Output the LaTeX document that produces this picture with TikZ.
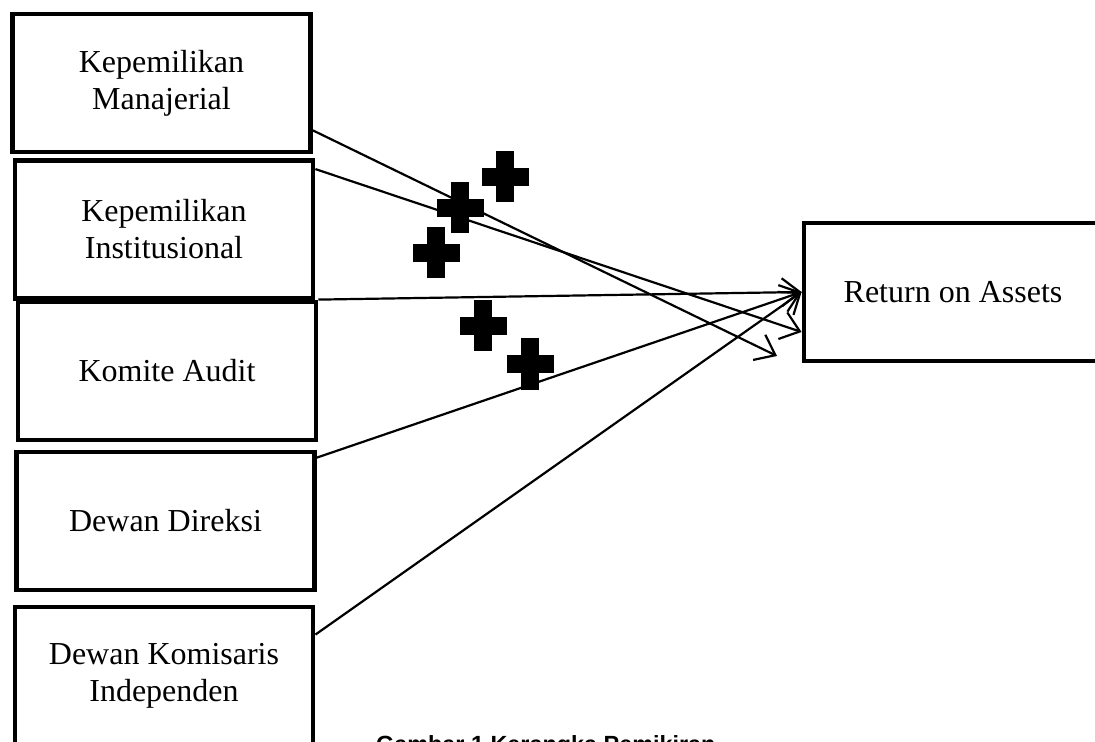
\documentclass[tikz,border=0pt]{standalone}
\usepackage{fontspec}
\setmainfont{Liberation Serif}
\setsansfont{Liberation Sans}
\usetikzlibrary{arrows.meta}

\begin{document}
\begin{tikzpicture}[->,>={Straight Barb[length=9pt,width=14pt]},x=0.5pt,y=-0.5pt,
                    line width=1.1pt]
  \tikzstyle{varbox}=[draw,rectangle,line width=2.4pt,minimum width=149pt,minimum height=69pt,
                      align=center,font=\fontsize{16pt}{18.5pt}\selectfont]
  \tikzset{plussign/.pic={\fill[-] (-9,-25.5) rectangle (9,25.5);
                          \fill[-] (-23.5,-9) rectangle (23.5,9);}}

  \useasboundingbox (0,0) rectangle (1095,742);

  \node[varbox]   (man)   at (161.5,83)   {Kepemilikan\\Manajerial};
  \node[varbox]   (inst)  at (164,229.5)  {Kepemilikan\\Institusional};
  \node[varbox]   (kom)   at (167,371)    {Komite Audit};
  \node[varbox]   (dir)   at (165.5,521)  {Dewan Direksi};
  \node[varbox]   (indep) at (164,676)    {Dewan Komisaris\\Independen};
  \node[varbox]   (roa)   at (953,292)    {Return on Assets};
  \coordinate     (manend) at (777,356);

  \path ([yshift=12pt]man.south east) edge (manend);
  \path ([yshift=-5.5pt]inst.north east) edge ([yshift=-20pt]roa.west);
  \path (kom.north east) edge (roa.west);
  \path ([yshift=-4pt]dir.north east) edge (roa.west);
  \path ([yshift=-15pt]indep.north east) edge (roa.west);

  \pic at (505,177) {plussign};
  \pic at (460,208) {plussign};
  \pic at (436,253) {plussign};
  \pic at (483,326) {plussign};
  \pic at (530,364) {plussign};

  \node[anchor=base west,inner sep=0pt,font=\sffamily\bfseries\fontsize{11.7pt}{14pt}\selectfont]
        (caption) at (375,752) {Gambar 1 Kerangka Pemikiran};
\end{tikzpicture}
\end{document}
